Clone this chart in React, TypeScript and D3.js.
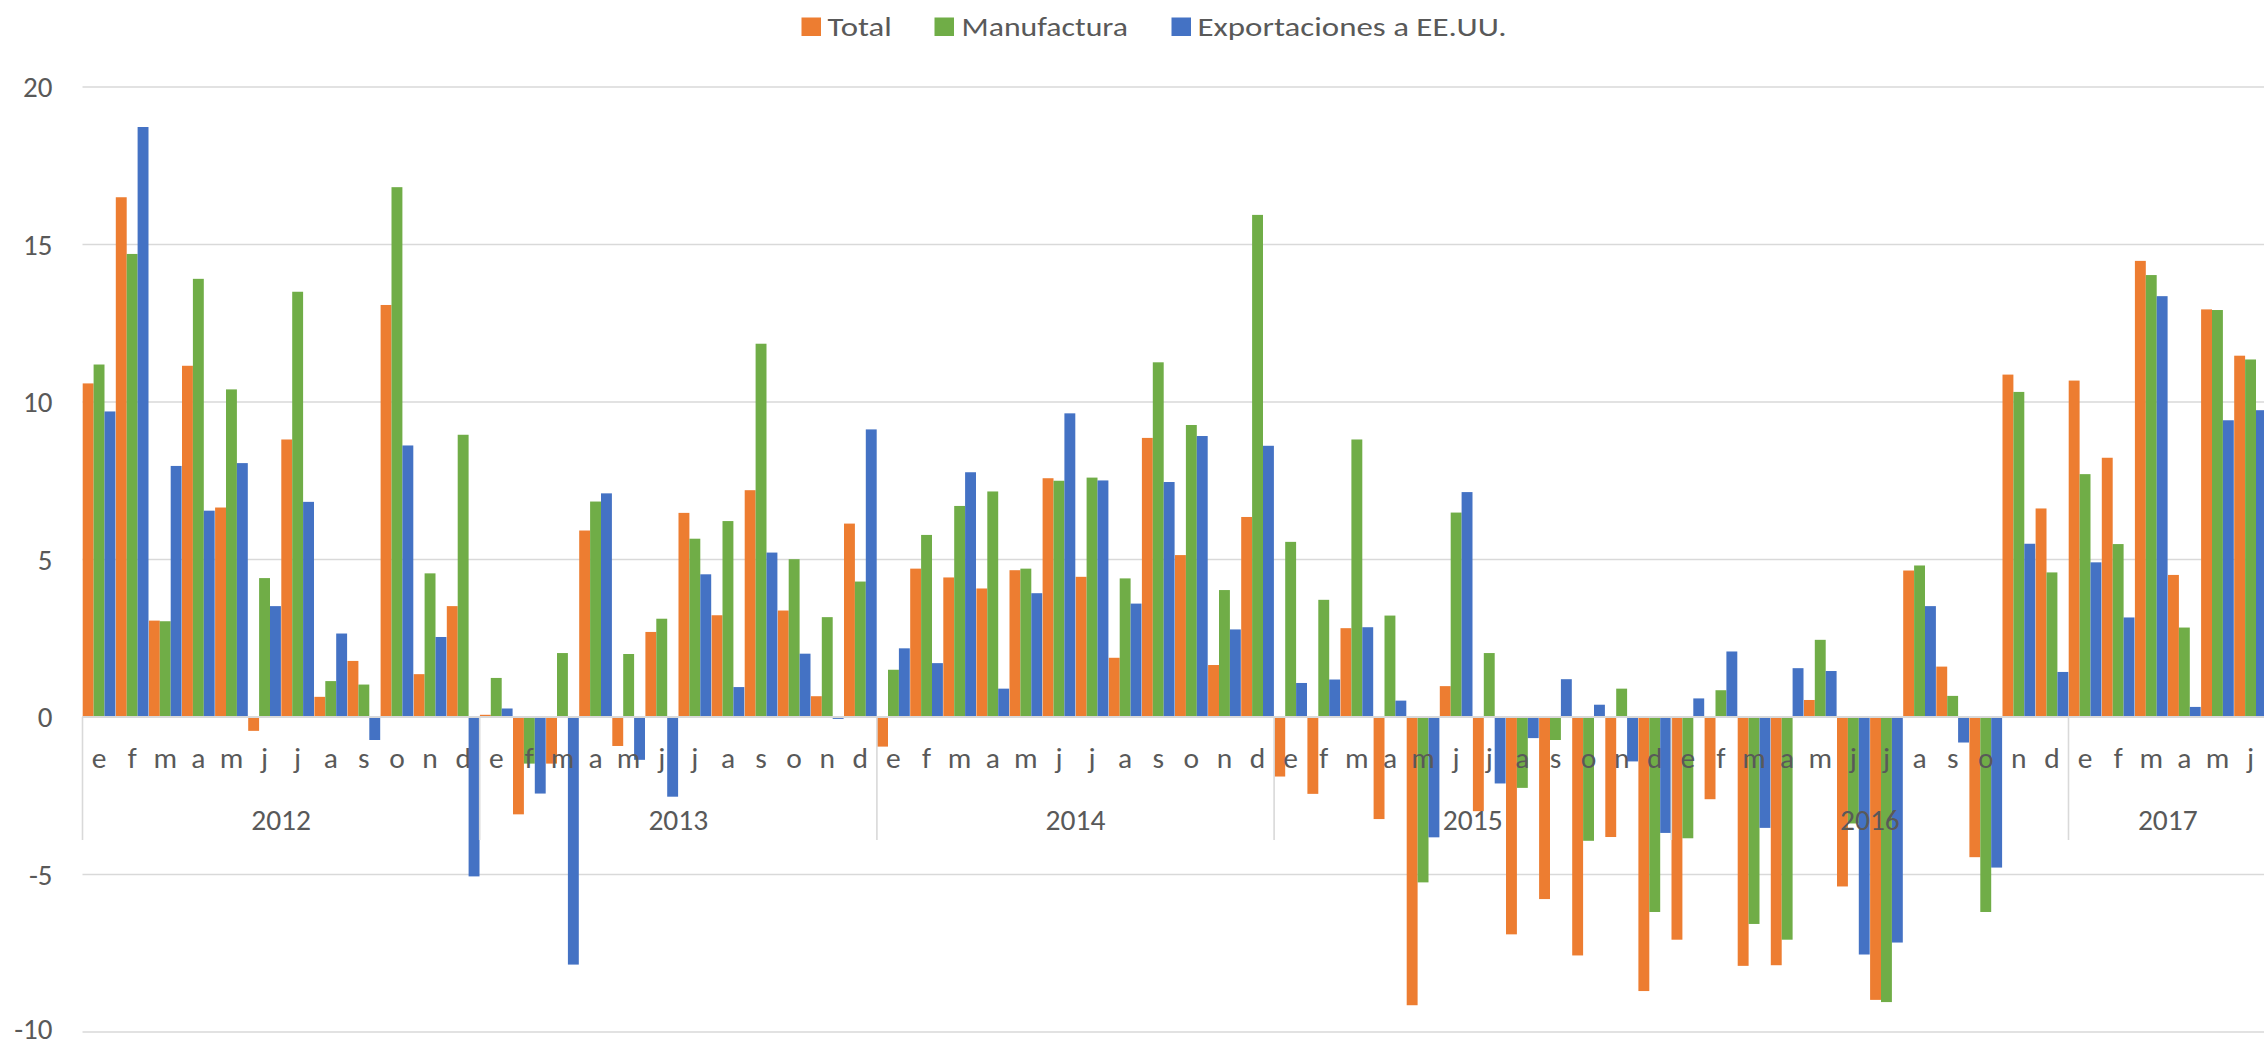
import React from "react";
import * as d3 from "d3";

const years = ["2012", "2013", "2014", "2015", "2016", "2017"];
const monthLetters = ["e", "f", "m", "a", "m", "j", "j", "a", "s", "o", "n", "d"];
const seriesNames = ["Total", "Manufactura", "Exportaciones a EE.UU."];
const seriesColors = ["#ED7D31", "#70AD47", "#4472C4"];

const total = [
  10.59, 16.5, 3.06, 11.15, 6.65, -0.44, 8.81, 0.64, 1.78, 13.08, 1.36, 3.52,
  0.07, -3.09, -1.48, 5.92, -0.92, 2.7, 6.48, 3.23, 7.2, 3.38, 0.66, 6.14,
  -0.94, 4.71, 4.43, 4.08, 4.66, 7.58, 4.45, 1.88, 8.86, 5.14, 1.65, 6.35,
  -1.89, -2.44, 2.82, -3.24, -9.15, 0.98, -2.99, -6.9, -5.78, -7.57, -3.81, -8.7,
  -7.07, -2.61, -7.9, -7.88, 0.54, -5.38, -8.98, 4.65, 1.6, -4.45, 10.87, 6.62,
  10.68, 8.23, 14.48, 4.51, 12.94, 11.47,
];
const manufactura = [
  11.19, 14.7, 3.04, 13.91, 10.4, 4.41, 13.5, 1.14, 1.03, 16.82, 4.56, 8.96,
  1.24, -1.48, 2.03, 6.84, 2.0, 3.12, 5.66, 6.22, 11.85, 5.01, 3.17, 4.3,
  1.5, 5.78, 6.7, 7.16, 4.71, 7.5, 7.6, 4.4, 11.26, 9.27, 4.03, 15.94,
  5.56, 3.72, 8.81, 3.22, -5.25, 6.49, 2.03, -2.25, -0.73, -3.93, 0.9, -6.19,
  -3.85, 0.85, -6.57, -7.07, 2.45, -3.38, -9.05, 4.81, 0.67, -6.19, 10.32, 4.59,
  7.71, 5.49, 14.03, 2.84, 12.92, 11.35,
];
const exportaciones = [
  9.7, 18.73, 7.97, 6.55, 8.06, 3.52, 6.83, 2.65, -0.73, 8.62, 2.54, -5.06,
  0.27, -2.43, -7.86, 7.1, -1.36, -2.53, 4.53, 0.95, 5.22, 2.01, -0.06, 9.13,
  2.18, 1.71, 7.77, 0.9, 3.93, 9.64, 7.51, 3.6, 7.46, 8.92, 2.78, 8.61,
  1.08, 1.19, 2.85, 0.52, -3.82, 7.14, -2.11, -0.67, 1.2, 0.39, -1.41, -3.68,
  0.59, 2.08, -3.52, 1.55, 1.46, -7.54, -7.16, 3.52, -0.81, -4.78, 5.5, 1.43,
  4.91, 3.16, 13.36, 0.32, 9.42, 9.74,
];
const yTicks = [-10, -5, 0, 5, 10, 15, 20];

const W = 2264;
const H = 1045;
const FONT = "Calibri, Carlito, Lato, sans-serif";
const TXT = "#595959";
const GRID = "#d9d9d9";

export default function App() {
  const series = [total, manufactura, exportaciones];
  const n = total.length;
  const idx = d3.range(n);
  const plotLeft = 82.5;
  const band = 33.1;
  const x = d3
    .scaleBand<number>()
    .domain(idx)
    .range([plotLeft, plotLeft + n * band])
    .paddingInner(0)
    .paddingOuter(0);
  const xs = d3
    .scaleBand<number>()
    .domain([0, 1, 2])
    .range([0.2, x.bandwidth() - 0.2])
    .padding(0);
  const y = d3.scaleLinear().domain([-10, 20]).range([1032, 87]);
  const y0 = y(0);

  const yearStarts = years.map((_, i) => i * 12);
  const legendItems = [
    { sq: 801.5, tx: 827.6, w: 64.2 },
    { sq: 934.5, tx: 961.5, w: 166.5 },
    { sq: 1171.5, tx: 1197.5, w: 309 },
  ];

  return (
    <svg
      width={W}
      height={H}
      style={{ position: "absolute", left: 0, top: 0, background: "#fff" }}
      fontFamily={FONT}
    >
      <rect x={0} y={0} width={W} height={H} fill="#fff" />
      {yTicks
        .filter((t) => t !== 0)
        .map((t) => (
          <line key={t} x1={plotLeft} x2={W} y1={y(t)} y2={y(t)} stroke={GRID} strokeWidth={1.6} />
        ))}
      {yTicks.map((t) => (
        <text
          key={t}
          x={52.5}
          y={Math.min(y(t) + 10.3, H - 6.5)}
          textAnchor="end"
          fontSize={29}
          fill={TXT}
        >
          {t}
        </text>
      ))}
      {series.map((vals, s) =>
        vals.map((v, i) => {
          const bx = (x(i) as number) + (xs(s) as number);
          const top = Math.min(y(v), y0);
          const h = Math.abs(y(v) - y0);
          return <rect key={`${s}-${i}`} x={bx} y={top} width={xs.bandwidth()} height={h} fill={seriesColors[s]} />;
        })
      )}
      <line x1={plotLeft} x2={W} y1={y0} y2={y0} stroke={GRID} strokeWidth={2} />
      {yearStarts.map((st) => (
        <line
          key={st}
          x1={x(st) as number}
          x2={x(st) as number}
          y1={y0}
          y2={840}
          stroke={GRID}
          strokeWidth={1.6}
        />
      ))}
      {idx.map((i) => (
        <text
          key={i}
          x={(x(i) as number) + x.bandwidth() / 2}
          y={767.5}
          textAnchor="middle"
          fontSize={29.5}
          fill={TXT}
        >
          {monthLetters[i % 12]}
        </text>
      ))}
      {years.map((yr, k) => {
        const st = k * 12;
        const en = Math.min(n, st + 12);
        const cx = ((x(st) as number) + (x(en - 1) as number) + x.bandwidth()) / 2;
        return (
          <text key={yr} x={cx} y={829.5} textAnchor="middle" fontSize={29.5} fill={TXT}>
            {yr}
          </text>
        );
      })}
      {seriesNames.map((nm, s) => (
        <g key={nm}>
          <rect x={legendItems[s].sq} y={17.5} width={19.5} height={18.5} fill={seriesColors[s]} />
          <text
            x={legendItems[s].tx}
            y={35.7}
            fontSize={27}
            fill={TXT}
            textLength={legendItems[s].w}
            lengthAdjust="spacingAndGlyphs"
          >
            {nm}
          </text>
        </g>
      ))}
    </svg>
  );
}
